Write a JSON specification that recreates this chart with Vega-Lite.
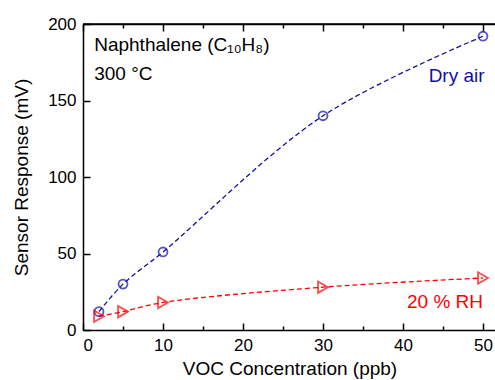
{
  "$schema": "https://vega.github.io/schema/vega-lite/v6.json",
  "width": 413,
  "height": 306,
  "autosize": {"type": "none"},
  "padding": {"left": 83, "top": 24, "right": 0, "bottom": 50},
  "background": "white",
  "config": {
    "view": {"stroke": null},
    "font": "Liberation Sans",
    "axis": {
      "labelFont": "Liberation Sans",
      "labelFontSize": 17,
      "labelColor": "#000000",
      "titleFont": "Liberation Sans",
      "titleFontSize": 19,
      "titleFontWeight": "normal",
      "titleColor": "#000000",
      "domainColor": "#000000",
      "domainWidth": 1.5,
      "tickColor": "#000000",
      "tickWidth": 1.5,
      "grid": false
    },
    "text": {"font": "Liberation Sans", "fontWeight": "normal"}
  },
  "data": {
    "values": [
      {"conc": 2, "resp": 12, "series": "Dry air"},
      {"conc": 5, "resp": 30, "series": "Dry air"},
      {"conc": 10, "resp": 51, "series": "Dry air"},
      {"conc": 30, "resp": 140, "series": "Dry air"},
      {"conc": 50, "resp": 192, "series": "Dry air"},
      {"conc": 2, "resp": 9, "series": "20 % RH"},
      {"conc": 5, "resp": 12, "series": "20 % RH"},
      {"conc": 10, "resp": 18, "series": "20 % RH"},
      {"conc": 30, "resp": 28, "series": "20 % RH"},
      {"conc": 50, "resp": 34, "series": "20 % RH"}
    ]
  },
  "layer": [
    {
      "data": {"values": [{}]},
      "mark": {"type": "rule", "color": "#000000", "strokeWidth": 1.5},
      "encoding": {
        "x": {"datum": 0, "type": "quantitative", "axis": {"orient": "top", "title": null, "labels": false, "domain": true, "values": [0, 5, 10, 15, 20, 25, 30, 35, 40, 45, 50], "tickSize": {"condition": {"test": "datum.value % 10 === 0", "value": -7}, "value": -4}}},
        "x2": {"datum": 51.625},
        "y": {"datum": 200, "type": "quantitative"}
      }
    },
    {
      "mark": {"type": "line", "interpolate": "catmull-rom", "strokeDash": [5, 3], "strokeWidth": 1.3},
      "encoding": {
        "x": {
          "field": "conc", "type": "quantitative",
          "scale": {"domain": [0, 51.625], "nice": false},
          "axis": {
            "orient": "bottom",
            "title": "VOC Concentration (ppb)",
            "values": [0, 5, 10, 15, 20, 25, 30, 35, 40, 45, 50],
            "labelExpr": "datum.value % 10 === 0 ? datum.label : ''",
            "tickSize": {"condition": {"test": "datum.value % 10 === 0", "value": -7}, "value": -4},
            "labelPadding": 14,
            "titlePadding": 6
          }
        },
        "y": {
          "field": "resp", "type": "quantitative",
          "scale": {"domain": [0, 200], "nice": false},
          "axis": {
            "orient": "left",
            "title": "Sensor Response (mV)",
            "values": [0, 25, 50, 75, 100, 125, 150, 175, 200],
            "labelExpr": "datum.value % 50 === 0 ? datum.label : ''",
            "tickSize": {"condition": {"test": "datum.value % 50 === 0", "value": -7}, "value": -4},
            "labelPadding": 14,
            "titlePadding": 16
          }
        },
        "color": {
          "field": "series", "type": "nominal",
          "scale": {"domain": ["Dry air", "20 % RH"], "range": ["#1010a0", "#ff0000"]},
          "legend": null
        }
      }
    },
    {
      "mark": {"type": "point", "filled": false, "strokeWidth": 1.8},
      "encoding": {
        "x": {
          "field": "conc", "type": "quantitative",
          "axis": {"orient": "bottom", "title": null, "labels": false, "ticks": false, "domain": false}
        },
        "y": {"field": "resp", "type": "quantitative"},
        "color": {"field": "series", "type": "nominal", "legend": null},
        "shape": {
          "field": "series", "type": "nominal",
          "scale": {"domain": ["Dry air", "20 % RH"], "range": ["circle", "triangle-right"]},
          "legend": null
        },
        "size": {
          "field": "series", "type": "nominal",
          "scale": {"domain": ["Dry air", "20 % RH"], "range": [80, 130]},
          "legend": null
        }
      }
    },
    {
      "data": {"values": [{}]},
      "mark": {"type": "text", "align": "left", "baseline": "middle", "fontSize": 19, "color": "#000000"},
      "encoding": {
        "x": {"datum": 1.4, "type": "quantitative", "axis": {"orient": "bottom", "labels": false, "ticks": false, "domain": false, "title": null}},
        "y": {"datum": 186, "type": "quantitative"},
        "text": {"value": "Naphthalene (C₁₀H₈)"}
      }
    },
    {
      "data": {"values": [{}]},
      "mark": {"type": "text", "align": "left", "baseline": "middle", "fontSize": 19, "color": "#000000"},
      "encoding": {
        "x": {"datum": 1.4, "type": "quantitative", "axis": {"orient": "bottom", "labels": false, "ticks": false, "domain": false, "title": null}},
        "y": {"datum": 167, "type": "quantitative"},
        "text": {"value": "300 °C"}
      }
    },
    {
      "data": {"values": [{}]},
      "mark": {"type": "text", "align": "right", "baseline": "middle", "fontSize": 19, "color": "#1010a0"},
      "encoding": {
        "x": {"datum": 50.2, "type": "quantitative", "axis": {"orient": "bottom", "labels": false, "ticks": false, "domain": false, "title": null}},
        "y": {"datum": 166, "type": "quantitative"},
        "text": {"value": "Dry air"}
      }
    },
    {
      "data": {"values": [{}]},
      "mark": {"type": "text", "align": "right", "baseline": "middle", "fontSize": 19, "color": "#ff0000"},
      "encoding": {
        "x": {"datum": 50, "type": "quantitative", "axis": {"orient": "bottom", "labels": false, "ticks": false, "domain": false, "title": null}},
        "y": {"datum": 18, "type": "quantitative"},
        "text": {"value": "20 % RH"}
      }
    }
  ]
}
